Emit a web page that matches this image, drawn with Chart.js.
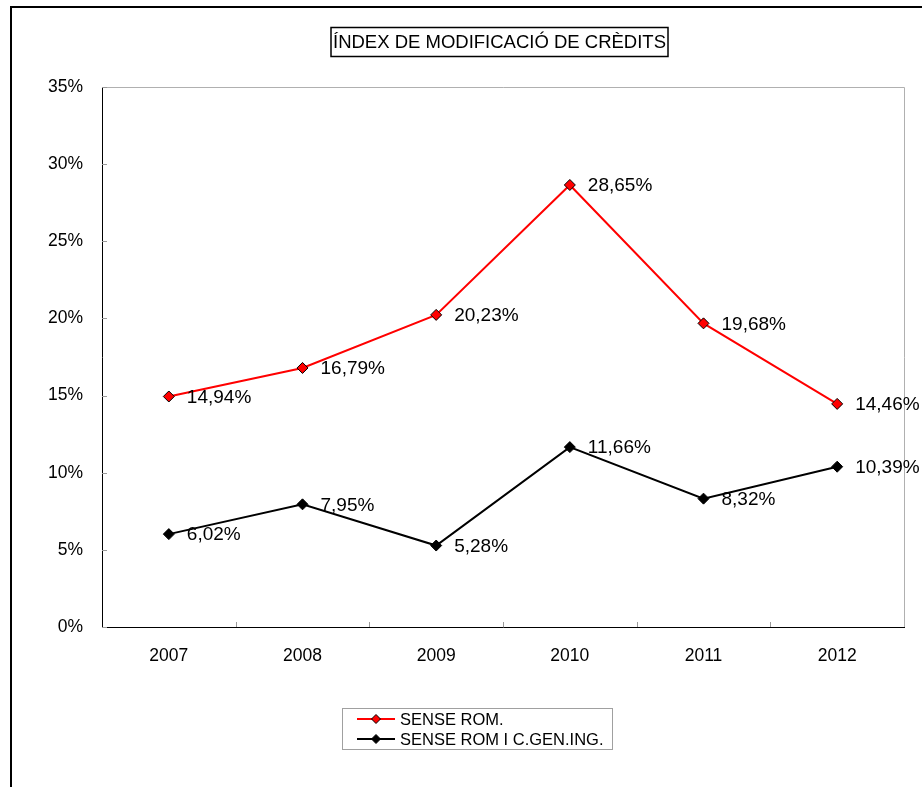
<!DOCTYPE html>
<html>
<head>
<meta charset="utf-8">
<script src="https://cdn.jsdelivr.net/npm/chart.js@4"></script>
<style>
  body { margin: 0; background: #fff; }
</style>
</head>
<body>
<canvas id="modChart" width="922" height="787"></canvas>
<script>
/* ======================
   DATA
====================== */

const years = ["2007", "2008", "2009", "2010", "2011", "2012"];
const senseRom = [14.94, 16.79, 20.23, 28.65, 19.68, 14.46];
const senseRomGen = [6.02, 7.95, 5.28, 11.66, 8.32, 10.39];
const seriesNames = ["SENSE ROM.", "SENSE ROM I C.GEN.ING."];
const chartTitle = "ÍNDEX DE MODIFICACIÓ DE CRÈDITS";

const FONT = '"Liberation Sans", Arial, sans-serif';

const fmt = v => v.toFixed(2).replace(".", ",") + "%";

/* ======================
   DECORATIONS (frame, title, labels, legend)
====================== */

const decor = {
  id: "decor",
  beforeDraw(chart) {
    const c = chart.ctx;
    c.save();
    c.fillStyle = "#fff";
    c.fillRect(0, 0, chart.width, chart.height);
    // outer frame
    c.strokeStyle = "#000";
    c.lineWidth = 2;
    c.strokeRect(11, 7, 940, 800);
    c.restore();
  },
  afterDatasetsDraw(chart) {
    const c = chart.ctx;
    const a = chart.chartArea;
    const x = chart.scales.x;
    const y = chart.scales.y;
    c.save();

    // top / right plot border
    c.strokeStyle = "#b0b0b0";
    c.lineWidth = 1;
    c.beginPath();
    c.moveTo(a.left, a.top + 0.5);
    c.lineTo(a.right + 0.5, a.top + 0.5);
    c.lineTo(a.right + 0.5, a.bottom);
    c.stroke();

    // inner ticks
    c.strokeStyle = "#999";
    c.beginPath();
    y.ticks.forEach(t => {
      const py = Math.round(y.getPixelForValue(t.value)) + 0.5;
      c.moveTo(a.left, py);
      c.lineTo(a.left + 5, py);
    });
    const n = years.length;
    for (let i = 1; i < n; i++) {
      const px = Math.round(a.left + i * (a.right - a.left) / n) + 0.5;
      c.moveTo(px, a.bottom);
      c.lineTo(px, a.bottom - 5);
    }
    c.stroke();

    // data labels
    c.fillStyle = "#000";
    c.font = "19px " + FONT;
    c.textAlign = "left";
    c.textBaseline = "middle";
    chart.data.datasets.forEach((ds, di) => {
      chart.getDatasetMeta(di).data.forEach((pt, i) => {
        c.fillText(fmt(ds.data[i]), pt.x + 18, pt.y + 1);
      });
    });

    // title box
    c.lineWidth = 1.5;
    c.strokeStyle = "#000";
    c.strokeRect(331, 27.5, 337, 29);
    c.font = "18.5px " + FONT;
    c.textAlign = "center";
    c.fillText(chartTitle, 499.5, 43);

    // legend
    c.strokeStyle = "#a0a0a0";
    c.lineWidth = 1;
    c.strokeRect(342.5, 708.5, 270, 41);
    c.textAlign = "left";
    c.font = "16.5px " + FONT;
    chart.data.datasets.forEach((ds, di) => {
      const ly = 719 + di * 20;
      c.strokeStyle = ds.borderColor;
      c.lineWidth = 2;
      c.beginPath();
      c.moveTo(357, ly);
      c.lineTo(395, ly);
      c.stroke();
      c.fillStyle = ds.pointBackgroundColor;
      c.strokeStyle = "#000";
      c.lineWidth = 1;
      c.beginPath();
      c.moveTo(376, ly - 4.5);
      c.lineTo(380.5, ly);
      c.lineTo(376, ly + 4.5);
      c.lineTo(371.5, ly);
      c.closePath();
      c.fill();
      c.stroke();
      c.fillStyle = "#000";
      c.fillText(ds.label, 400, ly + 1);
    });

    c.restore();
  }
};

/* ======================
   LINE CHART
====================== */

const ctx = document.getElementById("modChart").getContext("2d");

new Chart(ctx, {
  type: "line",
  data: {
    labels: years,
    datasets: [{
      label: seriesNames[0],
      data: senseRom,
      borderColor: "#ff0000",
      borderWidth: 2,
      pointStyle: "rectRot",
      pointRadius: 5.5,
      pointBackgroundColor: "#ff0000",
      pointBorderColor: "#000",
      pointBorderWidth: 1,
      tension: 0
    }, {
      label: seriesNames[1],
      data: senseRomGen,
      borderColor: "#000",
      borderWidth: 2,
      pointStyle: "rectRot",
      pointRadius: 5.5,
      pointBackgroundColor: "#000",
      pointBorderColor: "#000",
      pointBorderWidth: 1,
      tension: 0
    }]
  },
  options: {
    responsive: false,
    animation: false,
    devicePixelRatio: 1,
    layout: { padding: { top: 87, right: 18, bottom: 0, left: 0 } },
    plugins: {
      legend: { display: false },
      title: { display: false },
      tooltip: { enabled: false }
    },
    scales: {
      x: {
        offset: true,
        grid: { display: false },
        border: { display: true, color: "#000", width: 1 },
        ticks: { color: "#000", font: { family: FONT, size: 17.5 }, padding: 11, maxRotation: 0 },
        afterFit: s => { s.height = 160; }
      },
      y: {
        min: 0,
        max: 35,
        grid: { display: false },
        border: { display: true, color: "#000", width: 1 },
        ticks: {
          stepSize: 5,
          color: "#000",
          font: { family: FONT, size: 17.5 },
          padding: 11,
          callback: v => v + "%"
        },
        afterFit: s => { s.width = 102; }
      }
    }
  },
  plugins: [decor]
});
</script>
</body>
</html>
